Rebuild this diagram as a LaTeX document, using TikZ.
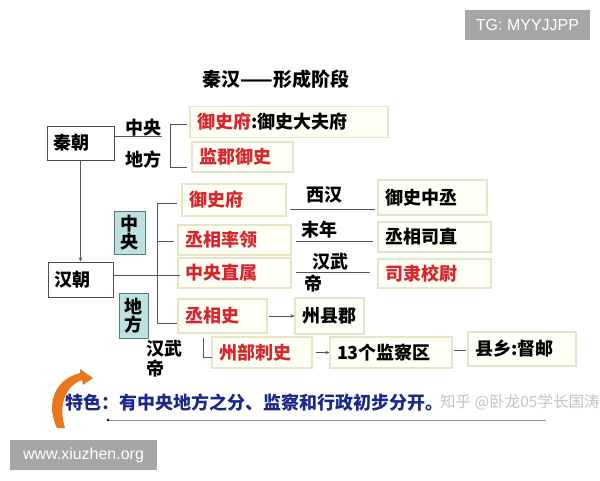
\documentclass[tikz,border=0pt]{standalone}
\usepackage{fontspec}
\setmainfont{Liberation Sans}
\newfontfamily\cjk{Noto Sans CJK SC}
\usetikzlibrary{arrows.meta}
\definecolor{boxline}{HTML}{E2E8C6}
\definecolor{boxfill}{HTML}{FFFFF6}
\definecolor{redt}{HTML}{D6262B}
\definecolor{tealfill}{HTML}{BEE0E0}
\definecolor{tealline}{HTML}{4F7F7F}
\definecolor{linec}{HTML}{555555}
\definecolor{bluet}{HTML}{1B2A8A}
\definecolor{orangec}{HTML}{E8771E}
\definecolor{wmbox}{HTML}{A6A6A6}
\definecolor{wmtext}{HTML}{C4C4C4}
\tikzset{
  cjkf/.style={font=\cjk\bfseries\fontsize{18}{18}\selectfont},
  bx/.style={cjkf, draw=boxline, fill=boxfill, line width=1.2pt, align=left,
    inner xsep=7pt, inner ysep=0pt},
  rbx/.style={bx, text=redt},
  kbx/.style={cjkf, draw=black!70, fill=white, line width=1pt, align=left,
    inner xsep=6pt, inner ysep=0pt},
  tbx/.style={cjkf, draw=tealline, fill=tealfill, line width=0.8pt, align=center,
    inner sep=0pt},
  lbl/.style={cjkf, inner sep=0pt},
  ln/.style={draw=linec, line width=1pt},
  arr/.style={ln, -{Stealth[length=4pt,width=3.5pt]}},
  wmark/.style={fill=wmbox, text=white, inner sep=0pt,
    font=\fontsize{16}{16}\selectfont},
}
\begin{document}
\begin{tikzpicture}[x=1pt,y=-1pt]
\useasboundingbox[fill=white] (0,0) rectangle (600,480);

% watermark boxes
\node[wmark, minimum width=125pt, minimum height=30pt] (tg) at (527.5,25) {TG: MYYJJPP};
\node[wmark, minimum width=147pt, minimum height=30pt] (www) at (83.5,455) {www.xiuzhen.org};

% title
\node[lbl, font=\cjk\bfseries\fontsize{19}{19}\selectfont] (title) at (276,79) {秦汉——形成阶段};

% Qin
\node[kbx, text width=55pt, minimum height=34pt] (qin) at (80.5,143) {秦朝};
\node[lbl] (qzy) at (143.5,128) {中央};
\node[lbl] (qdf) at (143.5,160) {地方};
\node[bx, text width=184pt, minimum height=31pt] (qysf) at (289,122)
  {\textcolor{redt}{御史府}:御史大夫府};
\node[rbx, text width=87pt, minimum height=30pt] (jjys) at (242.5,157) {监郡御史};

\coordinate (qline) at (162,136);
\draw[ln] (qin.east |- qline) -- (qline);
\coordinate (qb1) at (187,124);
\coordinate (qb2) at (187,167);
\draw[ln] (qb1) -- (170,124) -- (170,167) -- (qb2);

% Han
\node[kbx, text width=53pt, minimum height=35pt] (han) at (80.5,279.5) {汉朝};
\draw[arr] (qin.south) -- (han.north);

\node[tbx, minimum width=31pt, minimum height=43pt] (hzy) at (129.5,232.5) {中\\央};
\node[tbx, minimum width=29pt, minimum height=45pt] (hdf) at (133.5,315.5) {地\\方};

\node[rbx, text width=90pt, minimum height=32pt] (hysf) at (234,200) {御史府};
\node[rbx, text width=99pt, minimum height=30pt] (cxsl) at (234.5,240) {丞相率领};
\node[rbx, text width=99pt, minimum height=30pt] (zyzs) at (234.5,273) {中央直属};
\node[rbx, text width=75pt, minimum height=34pt] (cxs) at (222.5,316) {丞相史};

\coordinate (hl) at (180,275);
\draw[ln] (han.east |- hl) -- (hl);
\coordinate (hb1) at (177,203);
\coordinate (hb2) at (177,323);
\coordinate (hb3) at (174,241);
\draw[ln] (hb1) -- (157,203) -- (157,323) -- (hb2);
\draw[ln] (157,241) -- (hb3);

% right column
\node[bx, text width=95pt, minimum height=35pt] (yszc) at (432.5,197.5) {御史中丞};
\node[bx, text width=99pt, minimum height=30pt] (cxsz) at (434.5,237) {丞相司直};
\node[rbx, text width=99pt, minimum height=29pt] (slxw) at (434.5,273.5) {司隶校尉};

\node[lbl] (xh) at (324,195) {西汉};
\node[lbl] (mn) at (319,230) {末年};
\node[lbl] (hw1) at (330,262) {汉武};
\node[lbl] (hw2) at (313,284) {帝};
\coordinate (l1a) at (290,209); \coordinate (l1b) at (375,209);
\coordinate (l2a) at (296,241); \coordinate (l2b) at (373,241);
\coordinate (l3a) at (296,272); \coordinate (l3b) at (370,272);
\draw[ln] (l1a) -- (l1b);
\draw[ln] (l2a) -- (l2b);
\draw[ln] (l3a) -- (l3b);

\node[bx, text width=55pt, minimum height=36pt] (zxj) at (329.5,316) {州县郡};
\draw[arr] ([xshift=1pt]cxs.east) -- (zxj.west);

% Han Wudi local
\node[lbl] (hwd1) at (164,349) {汉武};
\node[lbl] (hwd2) at (155,369) {帝};
\node[rbx, text width=86pt, minimum height=31pt] (zbcs) at (262,352.5) {州部刺史};
\coordinate (sb) at (212,357);
\draw[ln] (203,338) -- (203,357) -- (sb);
\node[bx, text width=108pt, minimum height=31pt] (jcq) at (391,352.5) {13个监察区};
\node[bx, text width=94pt, minimum height=34pt] (xx) at (522,349) {县乡:督邮};
\draw[arr, shorten <=3pt] (zbcs.east) -- (jcq.west);
\draw[ln, shorten <=1pt, shorten >=1pt] (jcq.east |- 0,350) -- (xx.west |- 0,350);

% feature line
\fill[orangec] (57,428) .. controls (46,406) and (53,380) .. (80,373)
  -- (80,369) -- (93,378) -- (83,385) -- (82,380)
  .. controls (65,386) and (58,406) .. (65,428) -- cycle;
\node[lbl, text=bluet, anchor=west] (feat) at (65,403) {特色：有中央地方之分、监察和行政初步分开。};
\coordinate (ul1) at (108,420);
\coordinate (ul2) at (546,420);
\draw[draw=gray!80, line width=1pt] (ul1) -- (ul2);
\fill[black!80] (ul1) circle (1.6pt);

\node[inner sep=0pt, anchor=west, text=wmtext, font=\cjk\fontsize{15.5}{15.5}\selectfont] (zh) at (440,402) {知乎 @卧龙05学长国涛};
\end{tikzpicture}
\end{document}
